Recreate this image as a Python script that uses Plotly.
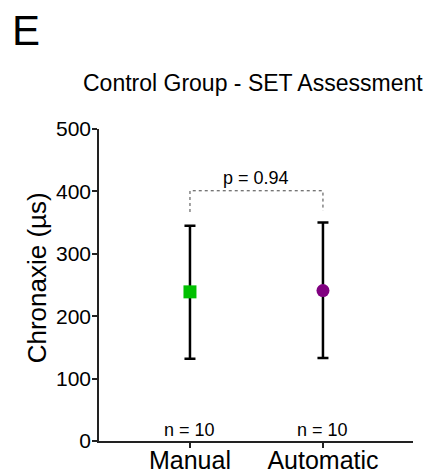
import plotly.graph_objects as go

categories = ["Manual", "Automatic"]
means = [239, 241]
err_plus = [106, 109]
err_minus = [107, 108]
colors = ["#00c000", "#800080"]
symbols = ["square", "circle"]
n_labels = ["n = 10", "n = 10"]
p_label = "p = 0.94"
bracket_top = 401
bracket_bottoms = [367, 369]

FONT = "Liberation Sans, Arial, sans-serif"

fig = go.Figure()
xs = list(range(len(categories)))
for i, cat in enumerate(categories):
    fig.add_trace(go.Scatter(
        x=[xs[i]], y=[means[i]], mode="markers",
        marker=dict(symbol=symbols[i], size=13, color=colors[i], line=dict(width=0)),
        error_y=dict(type="data", symmetric=False, array=[err_plus[i]], arrayminus=[err_minus[i]],
                     color="black", thickness=2.5, width=5.5),
        showlegend=False, name=cat))

# significance bracket
fig.add_trace(go.Scatter(
    x=[xs[0], xs[0], xs[1], xs[1]],
    y=[bracket_bottoms[0], bracket_top, bracket_top, bracket_bottoms[1]],
    mode="lines", line=dict(color="#444444", width=1, dash="dot"),
    showlegend=False, hoverinfo="skip"))

fig.add_annotation(x=0.5, y=bracket_top, text=p_label, showarrow=False,
                   yanchor="bottom", yshift=1, font=dict(size=18, color="black", family=FONT))
for i in range(len(categories)):
    fig.add_annotation(x=xs[i], y=0, text=n_labels[i], showarrow=False,
                       yanchor="bottom", yshift=-1, font=dict(size=18, color="black", family=FONT))

fig.add_annotation(xref="paper", yref="paper", x=-0.283, y=1.317, text="E", showarrow=False,
                   xanchor="left", yanchor="middle", font=dict(size=42, color="black", family=FONT))
fig.add_annotation(xref="paper", yref="paper", x=0.49, y=1.147,
                   text="Control Group - SET Assessment", showarrow=False,
                   xanchor="center", yanchor="middle", font=dict(size=23, color="black", family=FONT))
fig.add_annotation(xref="paper", yref="paper", x=-0.197, y=0.522,
                   text="Chronaxie (µs)", showarrow=False, textangle=-90,
                   xanchor="center", yanchor="middle", font=dict(size=26, color="black", family=FONT))

fig.update_layout(
    width=433, height=475,
    margin=dict(l=99, r=20, t=129, b=34),
    plot_bgcolor="white", paper_bgcolor="white",
    font=dict(family=FONT, color="black"),
    xaxis=dict(range=[-0.684, 1.677], tickvals=xs, ticktext=categories, automargin=False,
               showgrid=False, zeroline=False, showline=True, linecolor="#222", linewidth=1.5,
               ticks="outside", ticklen=5, tickwidth=1.5, tickcolor="#222", ticklabelstandoff=-9,
               tickfont=dict(size=25, family=FONT, color="black")),
    yaxis=dict(range=[0, 500], tickvals=[0, 100, 200, 300, 400, 500], automargin=False,
               showgrid=False, zeroline=False, showline=True, linecolor="#222", linewidth=1.5,
               ticks="outside", ticklen=5, tickwidth=1.5, tickcolor="#222", ticklabelstandoff=-3,
               tickfont=dict(size=21, family=FONT, color="black")),
)

fig.write_html("out.html")
